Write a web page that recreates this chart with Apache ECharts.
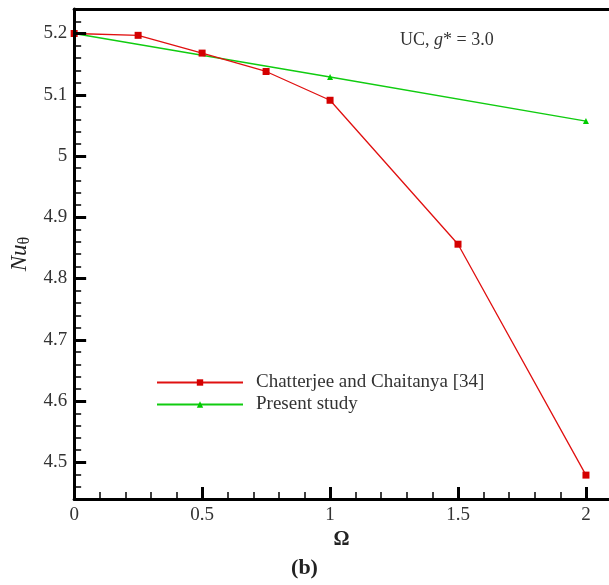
<!DOCTYPE html>
<html>
<head>
<meta charset="utf-8">
<script src="https://cdn.jsdelivr.net/npm/echarts@6/dist/echarts.min.js"></script>
<style>
  html, body { margin: 0; padding: 0; background: #fff; }
  #chart { width: 609px; height: 585px; }
</style>
</head>
<body>
<div id="chart"></div>
<script>
  // values
  var omegaRef = [0, 0.25, 0.5, 0.75, 1, 1.5, 2]
  var nuRef = [5.2, 5.197, 5.168, 5.138, 5.091, 4.856, 4.479]
  var omegaPresent = [0, 1, 2]
  var nuPresent = [5.2, 5.129, 5.057]
  var seriesNames = ['Chatterjee and Chaitanya [34]', 'Present study']

  // tick labels
  var xTicks = [0, 0.5, 1, 1.5, 2]
  var yTicks = [4.5, 4.6, 4.7, 4.8, 4.9, 5, 5.1, 5.2]

  var zip = function (xs, ys) {
    return xs.map(function (x, i) { return [x, ys[i]] })
  }
  // minor ticks between the majors
  var minorTicks = function (start, end, step) {
    var out = []
    var n = Math.round((end - start) / step)
    for (var i = 0; i <= n; i++) out.push(Math.round((start + i * step) * 1000) / 1000)
    return out
  }

  var font = 'Liberation Serif'
  var xMin = 0
  var xMax = 2.09
  var yMin = 4.44
  var yMax = 5.24
  var myChart = echarts.init(document.getElementById('chart'))

  var majorTick = { inside: true, length: 12, lineStyle: { width: 3, color: '#000' } }
  var minorTick = { inside: true, length: 7, lineStyle: { width: 1.5, color: '#000' } }

  var option = {
    animation: false,
    grid: { left: 72, right: 0, top: 9, bottom: 86 },
    legend: {
      data: seriesNames,
      orient: 'vertical',
      left: 151,
      top: 368,
      itemWidth: 86,
      itemHeight: 8,
      itemGap: 3,
      textStyle: { fontFamily: font, fontSize: 19, color: '#333', padding: [0, 0, 0, 8] }
    },
    xAxis: [{
      type: 'value',
      min: xMin,
      max: xMax,
      name: 'Ω',
      nameLocation: 'middle',
      nameGap: 31,
      nameTextStyle: { fontFamily: font, fontSize: 20, fontWeight: 'bold', color: '#222' },
      axisLine: { lineStyle: { color: '#000', width: 3 } },
      axisTick: Object.assign({ customValues: xTicks }, majorTick),
      axisLabel: {
        customValues: xTicks,
        fontFamily: font, fontSize: 19, color: '#333', margin: 7,
        formatter: function (v) { return String(v) }
      },
      splitLine: { show: false },
      z: 5
    }, {
      type: 'value',
      position: 'bottom',
      min: xMin,
      max: xMax,
      axisLine: { show: false },
      axisTick: Object.assign({ customValues: minorTicks(0, 2, 0.1) }, minorTick),
      axisLabel: { show: false },
      splitLine: { show: false }
    }, {
      type: 'value',
      position: 'top',
      min: xMin,
      max: xMax,
      axisLine: { show: true, lineStyle: { color: '#000', width: 3 } },
      axisTick: { show: false },
      axisLabel: { show: false },
      splitLine: { show: false }
    }],
    yAxis: [{
      type: 'value',
      min: yMin,
      max: yMax,
      name: '{i|Nu}{s|θ}',
      nameLocation: 'middle',
      nameGap: 39,
      nameTextStyle: {
        rich: {
          i: { fontFamily: font, fontSize: 23, fontStyle: 'italic', color: '#222' },
          s: { fontFamily: font, fontSize: 16, color: '#222', padding: [10, 0, 0, 0] }
        }
      },
      axisLine: { lineStyle: { color: '#000', width: 3 } },
      axisTick: Object.assign({ customValues: yTicks }, majorTick),
      axisLabel: {
        customValues: yTicks,
        fontFamily: font, fontSize: 19, color: '#333', margin: 7,
        formatter: function (v) { return String(Math.round(v * 10) / 10) }
      },
      splitLine: { show: false },
      z: 5
    }, {
      type: 'value',
      position: 'left',
      min: yMin,
      max: yMax,
      axisLine: { show: false },
      axisTick: Object.assign({ customValues: minorTicks(4.46, 5.22, 0.02) }, minorTick),
      axisLabel: { show: false },
      splitLine: { show: false }
    }],
    graphic: [{
      type: 'text',
      left: 400,
      top: 31,
      style: {
        text: 'UC, {i|g}* = 3.0',
        font: '18px "Liberation Serif"',
        fill: '#333',
        rich: { i: { fontFamily: font, fontSize: 18, fontStyle: 'italic', fill: '#333' } }
      }
    }, {
      type: 'text',
      left: 'center',
      top: 557,
      style: { text: '(b)', font: 'bold 22px "Liberation Serif"', fill: '#222' }
    }],
    series: [{
      name: seriesNames[0],
      type: 'line',
      data: zip(omegaRef, nuRef),
      symbol: 'rect',
      symbolSize: 7,
      color: '#d40000',
      lineStyle: { width: 1.3, color: '#e01010' },
      itemStyle: { color: '#d40000' },
      z: 3
    }, {
      name: seriesNames[1],
      type: 'line',
      data: zip(omegaPresent, nuPresent),
      symbol: 'triangle',
      symbolSize: 6,
      color: '#00cc00',
      lineStyle: { width: 1.3, color: '#10cc10' },
      itemStyle: { color: '#00cc00' },
      z: 2
    }]
  }
  myChart.setOption(option)
</script>
</body>
</html>
